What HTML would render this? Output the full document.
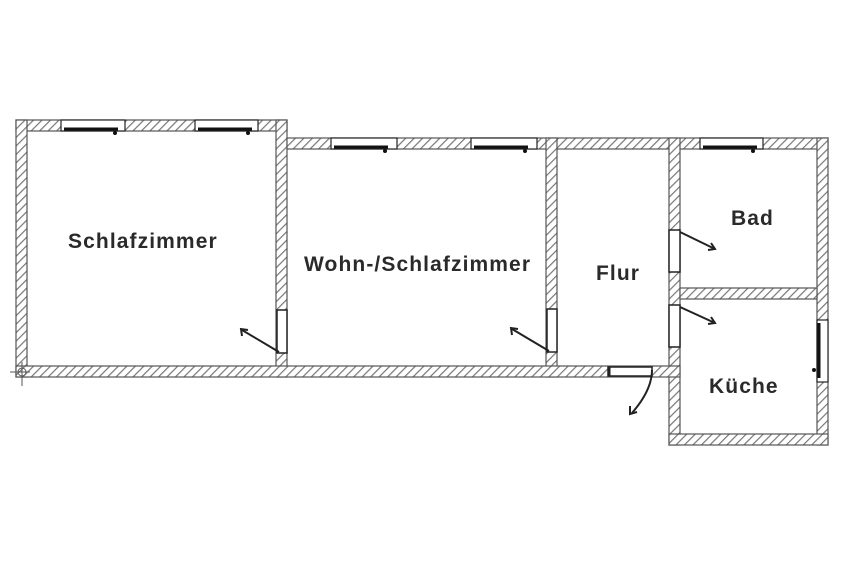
<!DOCTYPE html>
<html><head><meta charset="utf-8"><style>
html,body{margin:0;padding:0;background:#fff;width:850px;height:570px;overflow:hidden}
text{font-family:"Liberation Sans",sans-serif;font-size:21px;font-weight:bold;fill:#2a2a2a;letter-spacing:1.1px}
</style></head><body>
<svg width="850" height="570" viewBox="0 0 850 570" xmlns="http://www.w3.org/2000/svg">
<defs>
<pattern id="h" patternUnits="userSpaceOnUse" width="6" height="6" patternTransform="rotate(45)">
<rect width="6" height="6" fill="#fff"/>
<line x1="0" y1="0" x2="0" y2="6" stroke="#777" stroke-width="2.4"/>
</pattern>
</defs>
<g fill="url(#h)" stroke="#555" stroke-width="1.2">
<rect x="16" y="120" width="271" height="11"/>
<rect x="16" y="120" width="11" height="257"/>
<rect x="276" y="120" width="11" height="257"/>
<rect x="287" y="138" width="541" height="11"/>
<rect x="817" y="138" width="11" height="307"/>
<rect x="546" y="138" width="11" height="239"/>
<rect x="669" y="138" width="11" height="307"/>
<rect x="680" y="288" width="137" height="11"/>
<rect x="669" y="434" width="159" height="11"/>
<rect x="16" y="366" width="664" height="11"/>
</g>
<g fill="#fff" stroke="#222" stroke-width="1.2">
<rect x="61" y="120" width="64" height="11"/>
<rect x="195" y="120" width="63" height="11"/>
<rect x="331" y="138" width="66" height="11"/>
<rect x="471" y="138" width="66" height="11"/>
<rect x="700" y="138" width="63" height="11"/>
<rect x="817" y="320" width="11" height="62"/>
</g>
<g stroke="#111" stroke-width="3">
<line x1="64" y1="129" x2="118" y2="129"/>
<line x1="198" y1="129" x2="252" y2="129"/>
<line x1="334" y1="147" x2="388" y2="147"/>
<line x1="474" y1="147" x2="528" y2="147"/>
<line x1="703" y1="147" x2="757" y2="147"/>
<line x1="819" y1="323" x2="819" y2="378"/>
</g>
<g fill="#111"><circle cx="115" cy="133" r="2"/><circle cx="248" cy="133" r="2"/><circle cx="385" cy="151" r="2"/><circle cx="525" cy="151" r="2"/><circle cx="753" cy="151" r="2"/><circle cx="814" cy="370" r="2"/></g>
<g fill="#fff" stroke="#222" stroke-width="1.5">
<rect x="277" y="310" width="10" height="43"/>
<rect x="547" y="309" width="10" height="43"/>
<rect x="669" y="230" width="11" height="42"/>
<rect x="669" y="305" width="11" height="42"/>
<rect x="608" y="367" width="44" height="9"/>
</g>
<g stroke="#222" stroke-width="2" fill="none">
<line x1="279" y1="352" x2="242" y2="330"/>
<polyline points="242,336 241,329 248,330"/>
<line x1="549" y1="351" x2="512" y2="329"/>
<polyline points="512,335 511,328 518,329"/>
<line x1="680" y1="232" x2="715" y2="249"/>
<polyline points="708,250 715,249 711,243"/>
<line x1="680" y1="307" x2="715" y2="323"/>
<polyline points="708,324 715,323 711,317"/>
<path d="M652,370 Q652,390 632,413"/>
<polyline points="630,406 630,414 637,412"/>
<line x1="609" y1="367" x2="609" y2="376" stroke-width="3"/>
</g>
<g stroke="#555" stroke-width="1" fill="none"><circle cx="22" cy="372" r="4"/><line x1="10" y1="372" x2="30" y2="372"/><line x1="22" y1="362" x2="22" y2="386"/></g>
<text x="68" y="248">Schlafzimmer</text>
<text x="304" y="271">Wohn-/Schlafzimmer</text>
<text x="596" y="280">Flur</text>
<text x="731" y="225">Bad</text>
<text x="709" y="393">Küche</text>
</svg>
</body></html>
